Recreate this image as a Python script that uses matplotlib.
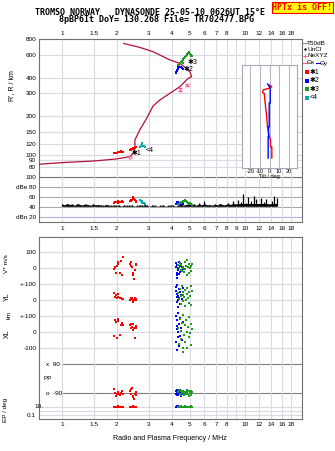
#! /usr/bin/env python3

import numpy as np
import matplotlib
matplotlib.use('Agg')
from matplotlib import pyplot as plt
from matplotlib.ticker import FixedLocator, FixedFormatter, NullLocator
from matplotlib.patches import Rectangle

plt.rcParams['font.family'] = ['Liberation Sans', 'DejaVu Sans']

# ---------------- data ----------------
# profile (plasma frequency MHz vs real height km)
prof_f = [0.751, 1.0, 1.516, 2.0, 2.36, 2.46, 2.51, 2.51, 2.67, 2.91, 3.16, 3.44,
          3.90, 4.42, 4.91, 5.13, 5.02, 4.77, 4.42, 3.90, 3.16, 2.67, 2.18]
prof_h = [84, 86.4, 89.1, 92.4, 96.3, 102.9, 112.6, 130, 155.7, 192, 240, 267,
          301, 339, 394, 406, 442, 475, 516, 549, 636, 688, 738]

nexyz_f = [4.43, 4.82]
nexyz_h = [324, 350]
nexyz_err = [8, 8]
nexyz_e_f = [2.37]
nexyz_e_h = [96]

# echo group 1 (red)
f1 = [1.94, 1.96, 1.98, 2.00, 2.02, 2.04, 2.07, 2.10, 2.13, 2.17,
      2.36, 2.38, 2.40, 2.42, 2.44, 2.46, 2.48, 2.50, 2.53, 2.56]
h1 = [103, 103, 103, 103.5, 104, 104, 105, 106, 105, 104,
      108, 109, 110, 110, 111, 112, 112, 113, 114, 114]
amp1 = [49, 50, 51, 50, 52, 49, 50, 51, 52, 50, 52, 54, 53, 55, 57, 60, 56, 54, 52, 50]
v1 = [-2, 6, -27, 14, 27, 41, -31, 48, -42, 73, 27, 41, 14, 6, -27, -42, -69, -11, 27, 20]
yl1 = [48, 23, 31, 12, 39, 20, 12, 15, 8, 10, 2, 6, 12, 17, -9, 5, 0, 14, 8, 3]
xl1 = [-23, 77, 66, -34, 82, 70, -18, 46, 60, 46, 46, 52, 25, 35, 15, 52, 25, -34, 40, 30]
pp1 = [-66, -87, -108, -93, -83, -95, -103, -90, -80, -95, -76, -93, -66, -60, -108,
       -116, -124, -98, -85, -100]
ep1 = [10, 11, 9, 10, 12, 10, 11, 10, 9, 10, 10, 11, 9, 10, 12, 10, 9, 11, 10, 10]

# echo group 2 (blue)
f2 = [4.21, 4.22, 4.24, 4.25, 4.27, 4.28, 4.30, 4.32, 4.34, 4.36, 4.38, 4.41, 4.44, 4.47, 4.52, 4.58]
h2 = [436, 441, 446, 452, 458, 462, 468, 475, 480, 485, 488, 486, 484, 480, 476, 470]
amp2 = [46, 47, 48, 49, 50, 48, 47, 49, 50, 48, 47, 46, 48, 49, 47, 46]
v2 = [31, 6, -27, -62, -42, 18, 2, 23, -10, 40, -35, 12, -20, 27, 8, -5]
yl2 = [60, 85, 20, -10, 40, 96, 5, 30, -40, 70, 15, 50, -25, 35, 10, 80]
xl2 = [100, -60, 40, -110, 20, 75, -30, 119, 0, -85, 55, -20, 90, 30, -50, 65]
pp2 = [-80, -95, -70, -100, -88, -75, -105, -92, -85, -78, -98, -90, -72, -110, -84, -96]
ep2 = [9, 11, 10, 12, 10, 9, 11, 10, 13, 10, 9, 11, 10, 12, 10, 9]

# echo group 3 (green)
f3 = [4.34, 4.38, 4.42, 4.46, 4.50, 4.54, 4.58, 4.62, 4.66, 4.70, 4.74, 4.78, 4.82,
      4.86, 4.90, 4.94, 4.98, 5.02, 5.06, 5.10, 5.13, 4.60]
h3 = [500, 505, 515, 525, 532, 540, 548, 555, 565, 575, 582, 590, 600, 610, 625,
      637, 630, 615, 600, 590, 585, 520]
amp3 = [46, 47, 48, 50, 49, 51, 52, 50, 53, 55, 54, 52, 51, 50, 49, 48, 47, 48, 46, 47, 45, 50]
v3 = [21, 0, 35, -10, 21, -15, 10, 5, -21, 42, -6, 15, 52, -42, 8, -30, 25, 0, 12, -18, 30, 3]
yl3 = [45, 10, 70, -20, 30, 88, -5, 55, 20, -35, 65, 0, 40, 80, 15, -15, 50, 25, 90, -30, 60, 35]
xl3 = [30, -70, 85, 10, -40, 60, -95, 110, -15, 45, -60, 75, 5, -100, 35, -30, 95, -5,
       50, -80, 20, -120]
pp3 = [-85, -70, -95, -100, -78, -88, -92, -75, -105, -82, -90, -97, -72, -86, -94, -80,
       -110, -88, -76, -99, -84, -91]
ep3 = [10, 11, 9, 10, 12, 10, 11, 9, 10, 10, 12, 11, 9, 10, 10, 11, 10, 9, 12, 10, 11, 10]

# echo group 4 (cyan)
f4 = [2.66, 2.70, 2.74, 2.76, 2.76, 2.76, 2.80, 2.84]
h4 = [115, 116, 116, 119, 122, 124, 116, 115]
amp4 = [54, 53, 52, 51, 50, 49, 48, 46]

# noise level across the sweep, dB
noise_f = np.geomspace(1.0, 15.0, 84)
noise_db = [46, 44, 47, 45, 46, 43, 47, 45, 44, 46, 45, 43, 46, 44, 45, 44, 43, 45, 44, 43, 44,
            43, 44, 42, 44, 43, 43, 44, 42, 43, 44, 43, 45, 43, 42, 44, 43, 42, 43, 44, 42, 43, 44,
            43, 42, 44, 46, 43, 45, 50, 44, 46, 43, 48, 44, 52,
            44, 45, 43, 46, 44, 47, 45, 44, 48, 45, 52, 46, 55, 50,
            66, 48, 60, 52, 62, 56, 47, 58, 50, 57, 46, 53, 62, 58]
noise_floor = 40

# tilt vs height
tilt_x_f = [0, 2.4, -0.5, -6.5, -7.2, -5.5, -5.0, -4.1, -3.1, -2.1, -0.7, 1.0, 1.0, 2.4, 2.4]
tilt_x_h = [349, 339, 330, 320, 304, 301, 275, 237, 204, 165, 142, 130, 115, 115, 94]
tilt_y_f = [-2.0, 0, 0.7, 0.7, -0.3, -0.3, -1.0, -1.0, -1.4, -1.4]
tilt_y_h = [356, 339, 330, 252, 252, 165, 165, 138, 138, 94]

freq_ticks = [1, 1.5, 2, 3, 4, 5, 6, 7, 8, 9, 10, 12, 14, 16, 18]
freq_labels = ['1', '1.5', '2', '3', '4', '5', '6', '7', '8', '', '10', '12', '14', '16', '18']
freq_labels9 = ['1', '1.5', '2', '3', '4', '5', '6', '7', '8', '9', '10', '12', '14', '16', '18']
h_ticks = [80, 90, 100, 120, 150, 200, 300, 400, 600, 800]

# ---------------- layout ----------------
W, H = 335, 451
fig = plt.figure(figsize=(W / 100, H / 100), dpi=100)


def box(x0, y0, x1, y1):
    return [x0 / W, 1 - y1 / H, (x1 - x0) / W, (y1 - y0) / H]


RED, BLUE, GREEN, CYAN = '#ff0000', '#0000ff', '#1e9a1e', '#10a8a8'
PROF = '#b0103c'
PINK = '#ff5a8c'
GRID = '#dadae2'
SPINE = '#707070'
FS = 4.6
FMIN, FMAX = 0.75, 20.6

ax_h = fig.add_axes(box(39, 39, 302, 172))
ax_n = fig.add_axes(box(39, 172, 302, 222))
ax_p = fig.add_axes(box(39, 237, 302, 419))
ax_t = fig.add_axes(box(241.7, 65, 297.3, 167.7))

for ax in (ax_h, ax_n, ax_p):
    ax.set_xscale('log')
    ax.set_xlim(FMIN, FMAX)
    ax.xaxis.set_major_locator(FixedLocator(freq_ticks))
    ax.xaxis.set_minor_locator(NullLocator())
    ax.xaxis.set_major_formatter(FixedFormatter(freq_labels))
    ax.tick_params(length=0, labelsize=FS, pad=2)
    ax.grid(True, axis='x', color=GRID, lw=0.8, zorder=0)
    for s in ax.spines.values():
        s.set_color(SPINE)
        s.set_linewidth(0.8)

# --- heights
ax_h.set_yscale('log')
ax_h.set_ylim(73, 800)
ax_h.yaxis.set_major_locator(FixedLocator(h_ticks))
ax_h.yaxis.set_minor_locator(NullLocator())
ax_h.yaxis.set_major_formatter(FixedFormatter([str(t) for t in h_ticks]))
ax_h.grid(True, axis='y', color=GRID, lw=0.8, zorder=0)
ax_h.xaxis.tick_top()
ax_h.spines['bottom'].set_visible(False)
ax_h.plot(prof_f, prof_h, color=PROF, lw=0.9, zorder=3)
ax_h.errorbar(nexyz_f, nexyz_h, yerr=nexyz_err, fmt='none', ecolor=PINK,
              capsize=1.5, lw=0.8, zorder=4)
ax_h.plot(nexyz_e_f, nexyz_e_h, 'o', ms=2.2, mfc='none', mec=PINK, mew=0.8, zorder=4)
ax_h.plot(f1, h1, 's', color=RED, ms=1.6, mew=0, zorder=5)
ax_h.plot(f2, h2, 's', color=BLUE, ms=1.6, mew=0, zorder=5)
ax_h.plot(f3, h3, 's', color=GREEN, ms=1.6, mew=0, zorder=5)
ax_h.plot(f4, h4, 's', color=CYAN, ms=1.6, mew=0, zorder=5)
for fx, hy, lab in [(2.42, 101, '\u27311'), (4.62, 458, '\u27312'),
                    (4.85, 525, '\u27313'), (2.86, 107, '<4')]:
    ax_h.text(fx, hy, lab, fontsize=5, color='k', ha='left', va='center', zorder=6)

# --- noise / amplitudes
ax_n.set_ylim(10, 110)
ax_n.set_yticks([100, 80, 60, 40, 20])
ax_n.set_yticklabels(['100', 'dBe 80', '60', '40', 'dBn 20'])
ax_n.xaxis.set_major_formatter(FixedFormatter(freq_labels9))
ax_n.tick_params(axis='x', pad=3)
ax_n.spines['top'].set_visible(False)
for lev, col in [(100, '#707070'), (80, '#a8a8a8'), (60, '#a8a8a8'), (40, '#a8a8a8'),
                 (20, '#b0b0e8')]:
    ax_n.axhline(lev, color=col, lw=0.8, zorder=1)
noise_db = np.array(noise_db)
ax_n.fill_between(noise_f, noise_floor + 1.5, np.minimum(noise_db, 47), color='k', lw=0, zorder=3)
ax_n.vlines(noise_f, noise_floor + 1.5, noise_db, color='k', lw=0.9, zorder=3)
ax_n.plot(f1, amp1, 's', color=RED, ms=1.6, mew=0, zorder=4)
ax_n.plot(f2, amp2, 's', color=BLUE, ms=1.6, mew=0, zorder=4)
ax_n.plot(f3, amp3, 's', color=GREEN, ms=1.6, mew=0, zorder=4)
ax_n.plot(f4, amp4, 's', color=CYAN, ms=1.6, mew=0, zorder=4)

# --- echo parameters: V*, YL, XL, PP, EP stacked on one axis
V0, YL0, XL0, PP0, EP0 = 0, -200, -400, -690, -891
ax_p.set_ylim(-942, 196)
p_ticks = [100, 0, -100, -200, -300, -400, -500, -917]
ax_p.set_yticks(p_ticks)
ax_p.set_yticklabels(['100', '0', '+-100', '0', '+-100', '0', '-100', '0.1'])
ax_p.tick_params(axis='x', pad=2.5)
for lev in [100, 0, -100, -200, -300, -400, -500, -865, -891, -917]:
    ax_p.axhline(lev, color=GRID, lw=0.8, zorder=0)
ax_p.hlines([PP0 + 90, PP0 - 90], 1.0, FMAX, color='#808080', lw=0.8, zorder=1)
ytr = ax_p.get_yaxis_transform()
ax_p.text(0.028, PP0 + 90, 'x  90', transform=ytr, fontsize=FS, va='center', ha='left')
ax_p.text(0.028, PP0 - 90, 'o  -90', transform=ytr, fontsize=FS, va='center', ha='left')
ax_p.text(0.016, PP0, 'PP', transform=ytr, fontsize=FS, va='center', ha='left')
ax_p.text(0.017, EP0 + 26, '10.', transform=ytr, fontsize=FS, va='center', ha='right')

for ff, vv, yy, xx, pp, ee, col in [(f1, v1, yl1, xl1, pp1, ep1, RED),
                                    (f2, v2, yl2, xl2, pp2, ep2, BLUE),
                                    (f3, v3, yl3, xl3, pp3, ep3, GREEN)]:
    ff = np.array(ff)
    kw = dict(ls='none', marker='s', color=col, ms=1.6, mew=0, zorder=4)
    ax_p.plot(ff, V0 + np.array(vv), **kw)
    ax_p.plot(ff, YL0 + np.array(yy), **kw)
    ax_p.plot(ff, XL0 + np.array(xx), **kw)
    ax_p.plot(ff, PP0 + np.array(pp), **kw)
    ax_p.plot(ff, EP0 + 26 * np.log10(ee), **kw)

# --- tilt inset
ax_t.set_yscale('log')
ax_t.set_ylim(79, 501)
ax_t.set_xlim(-29, 29)
ax_t.set_xticks([-20, -10, 0, 10, 20])
ax_t.set_xticklabels(['-20', '-10', '0', '10', '20'])
ax_t.yaxis.set_major_locator(NullLocator())
ax_t.yaxis.set_minor_locator(NullLocator())
ax_t.tick_params(length=0, labelsize=4, pad=1)
ax_t.set_xlabel('Tilt / deg', fontsize=4, labelpad=0)
ax_t.grid(True, axis='x', color='#b8b8c8', lw=0.8)
for s in ax_t.spines.values():
    s.set_color('#a8a8b8')
ax_t.plot(tilt_x_f, tilt_x_h, color=RED, lw=1.0)
ax_t.plot(tilt_y_f, tilt_y_h, color=BLUE, lw=1.0)

# ---------------- text overlay in pixel units ----------------
ov = fig.add_axes([0, 0, 1, 1], zorder=10)
ov.set_xlim(0, W)
ov.set_ylim(H, 0)
ov.axis('off')

mono = dict(family='DejaVu Sans Mono', fontsize=6.0, fontweight='bold')
ov.text(150, 12.5, 'TROMSO NORWAY   DYNASONDE 25-05-10 0626UT 15\u00b0E', ha='center',
        va='center', **mono)
ov.text(156.7, 20, '8pBP6It DoY= 130.268 File= TR702477.BPG', ha='center', va='center', **mono)
ov.add_patch(Rectangle((271.7, 1.7), 61.6, 11, fc='#ffff00', ec='#ff0000', lw=0.8))
ov.text(302.5, 7.4, 'HPTx is OFF!', ha='center', va='center', color='#ff0000', **mono)

ov.text(12, 86, "R', R / km", rotation=90, ha='center', va='center', fontsize=5)
ov.text(7, 264, 'V* m/s', rotation=90, ha='center', va='center', fontsize=4.6)
ov.text(7.5, 297, 'YL', rotation=90, ha='center', va='center', fontsize=5)
ov.text(9, 315, 'km', rotation=90, ha='center', va='center', fontsize=4.4)
ov.text(7.5, 334, 'XL', rotation=90, ha='center', va='center', fontsize=5)
ov.text(5.5, 410, 'EP / deg', rotation=90, ha='center', va='center', fontsize=4.6)
ov.text(170, 438, 'Radio and Plasma Frequency / MHz', ha='center', va='center', fontsize=5)

# legend
lx = 307
ov.plot([302.5, 306.5], [43.3, 43.3], color='#909090', lw=0.8)
ov.text(lx, 43.3, 'T50dB', fontsize=FS, va='center')
ov.plot([304.5], [49.3], '.', color='k', ms=1.5)
ov.text(lx, 49.3, 'UnCl', fontsize=FS, va='center')
ov.plot([304.5], [55.5], '+', color=PINK, ms=3, mew=0.7)
ov.text(lx, 55.5, 'NeXYZ', fontsize=FS, va='center')
ov.plot([302.5, 306.5], [63, 63], color=PINK, lw=0.8)
ov.text(lx, 63, '\u0398x', fontsize=FS, va='center')
ov.plot([315.5, 319.5], [63, 63], color=BLUE, lw=0.8)
ov.text(320, 63, '\u0398y', fontsize=FS, va='center')
for yy, col, lab in [(72.3, RED, '\u27311'), (80.8, BLUE, '\u27312'),
                     (89.3, GREEN, '\u27313'), (97.8, CYAN, '<4')]:
    ov.plot([306.5], [yy], 's', color=col, ms=2.2, mew=0)
    ov.text(310, yy, lab, fontsize=5, va='center')

fig.savefig('out.png', dpi=100)
